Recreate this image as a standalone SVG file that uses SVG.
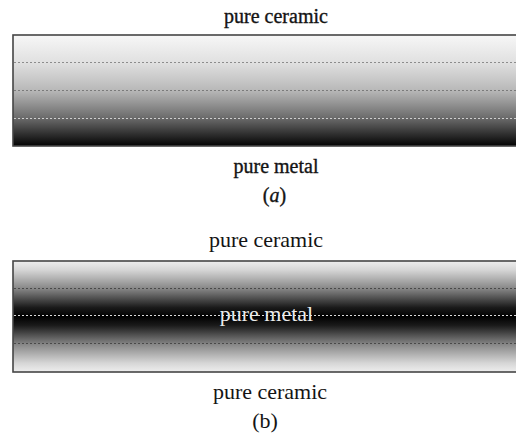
<svg xmlns="http://www.w3.org/2000/svg" width="516" height="437" viewBox="0 0 516 437">
  <defs>
    <!-- (a): ceramic on top grading to metal at the bottom -->
    <linearGradient id="gradA" x1="0" y1="0" x2="0" y2="1">
      <stop offset="0" stop-color="#f7f7f7"/>
      <stop offset="0.25" stop-color="#e0e0e0"/>
      <stop offset="0.5" stop-color="#b8b8b8"/>
      <stop offset="0.75" stop-color="#6a6a6a"/>
      <stop offset="1" stop-color="#030303"/>
    </linearGradient>
    <!-- (b): ceramic on both faces, metal in the mid-plane -->
    <linearGradient id="gradB" x1="0" y1="0" x2="0" y2="1">
      <stop offset="0" stop-color="#eeeeee"/>
      <stop offset="0.08" stop-color="#d6d6d6"/>
      <stop offset="0.25" stop-color="#868686"/>
      <stop offset="0.42" stop-color="#1a1a1a"/>
      <stop offset="0.5" stop-color="#000000"/>
      <stop offset="0.58" stop-color="#1a1a1a"/>
      <stop offset="0.75" stop-color="#868686"/>
      <stop offset="0.92" stop-color="#d6d6d6"/>
      <stop offset="1" stop-color="#eeeeee"/>
    </linearGradient>
  </defs>
  <style>
    .plate { stroke: #454545; stroke-width: 1.6; }
    .dash { stroke-width: 1.2; stroke-dasharray: 2 2; fill: none; }
    .lbl { fill: #141414; text-anchor: middle; }
    .lblA { font-size: 20px; stroke: #141414; stroke-width: 0.35; }
    .lblB { font-size: 22px; }
  </style>

  <rect width="516" height="437" fill="#ffffff"/>

  <!-- plate (a) -->
  <g id="plate-a">
    <rect class="plate" x="13" y="35" width="510" height="111" fill="url(#gradA)"/>
    <line class="dash" x1="14" y1="62.5" x2="516" y2="62.5" stroke="#8c8c8c"/>
    <line class="dash" x1="14" y1="90.5" x2="516" y2="90.5" stroke="#7a7a7a"/>
    <line class="dash" x1="14" y1="118.5" x2="516" y2="118.5" stroke="#cfcfcf"/>
  </g>
  <g id="labels-a" font-family="'Liberation Serif', 'Times New Roman', 'DejaVu Serif', serif">
    <text class="lbl lblA" x="276" y="23">pure ceramic</text>
    <text class="lbl lblA" x="276" y="173">pure metal</text>
    <text class="lbl lblA" x="274.5" y="202">(<tspan font-style="italic">a</tspan>)</text>
  </g>

  <!-- plate (b) -->
  <g id="plate-b">
    <rect class="plate" x="13" y="261" width="510" height="111" fill="url(#gradB)"/>
    <line class="dash" x1="14" y1="288.5" x2="516" y2="288.5" stroke="#4a4a4a"/>
    <line class="dash" x1="14" y1="315.5" x2="516" y2="315.5" stroke="#dcdcdc"/>
    <line class="dash" x1="14" y1="343.5" x2="516" y2="343.5" stroke="#4a4a4a"/>
  </g>
  <g id="labels-b" font-family="'Liberation Serif', 'Times New Roman', 'DejaVu Serif', serif">
    <text class="lbl lblB" x="266" y="247">pure ceramic</text>
    <text class="lbl lblB" x="266.5" y="321" style="fill:#ececec">pure metal</text>
    <text class="lbl lblB" x="270" y="399">pure ceramic</text>
    <text class="lbl lblB" x="265" y="428">(b)</text>
  </g>
</svg>
